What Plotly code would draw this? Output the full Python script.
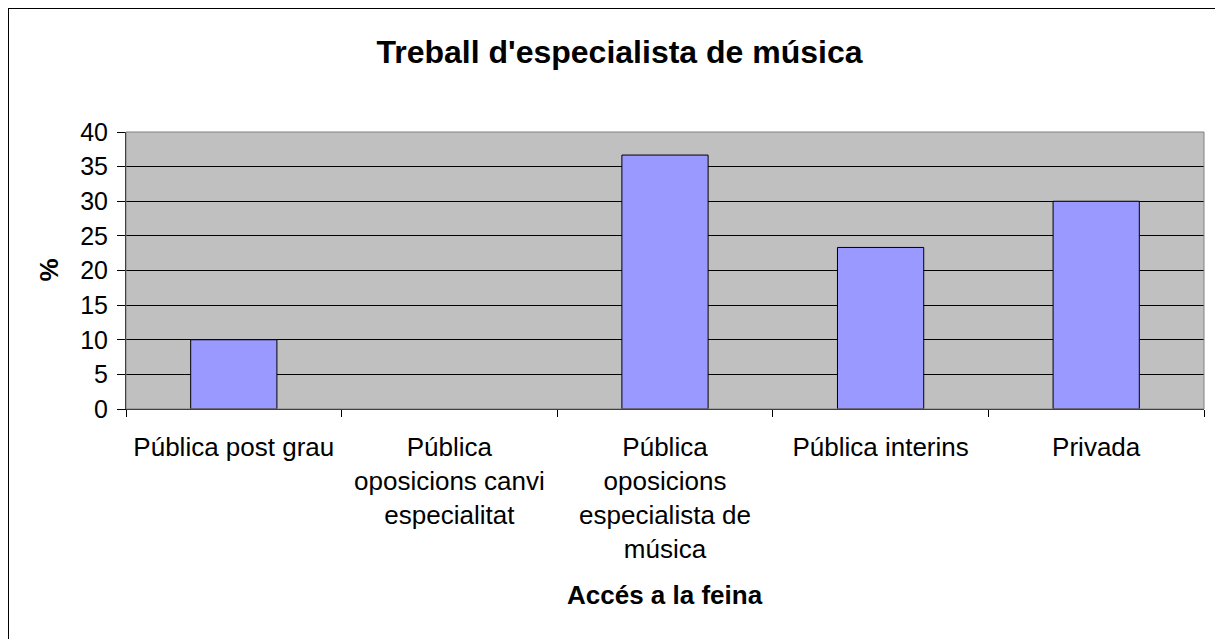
import plotly.graph_objects as go

# dades
categories = [
    "Pública post grau",
    "Pública<br>oposicions canvi<br>especialitat",
    "Pública<br>oposicions<br>especialista de<br>música",
    "Pública interins",
    "Privada",
]
values = [10, 0, 36.67, 23.33, 30]
y_ticks = [0, 5, 10, 15, 20, 25, 30, 35, 40]

font_family = "Liberation Sans, Arial, sans-serif"

# la pàgina ja desplaça la figura 8 px; l'àrea del gràfic va de (118,124) a (1196,401)
L, T, R, B = 118, 124, 1196, 401
W, H = 1223, 639
pw, ph = R - L, B - T

fig = go.Figure()

fig.add_trace(go.Bar(
    x=categories,
    y=values,
    marker=dict(color="#9999FF", line=dict(color="black", width=[1, 0, 1, 1, 1])),
    width=0.4,
))

fig.update_layout(
    width=W,
    height=H,
    margin=dict(l=L, r=W - R, t=T, b=H - B),
    paper_bgcolor="white",
    plot_bgcolor="#C0C0C0",
    showlegend=False,
    font=dict(family=font_family, color="black"),
    title=dict(
        text="<b>Treball d'especialista de música</b>",
        x=0.5, xref="container", xanchor="center",
        y=1 - 44 / H, yref="container", yanchor="middle",
        font=dict(size=32, color="black"),
    ),
)

fig.update_xaxes(
    type="category",
    showgrid=False,
    showline=True, linecolor="black", linewidth=1,
    ticks="outside", ticklen=7, tickcolor="black",
    tickson="boundaries",
    tickfont=dict(size=26),
    ticklabelstandoff=15,
    range=[-0.5, 4.5],
)
fig.update_yaxes(
    range=[0, 40],
    tickvals=y_ticks,
    showgrid=True, gridcolor="black", gridwidth=1,
    showline=True, linecolor="black", linewidth=1,
    ticks="outside", ticklen=8, tickcolor="black",
    tickfont=dict(size=25),
    ticklabelstandoff=4,
    zeroline=False,
)

# marc de l'àrea del gràfic
fig.add_shape(type="rect", xref="paper", yref="paper", x0=0, y0=0, x1=1, y1=1,
              line=dict(color="#808080", width=1), layer="above")
# marc exterior
fig.add_shape(type="rect", xref="paper", yref="paper",
              x0=(0 - L) / pw, y0=-2.0, x1=1.5, y1=1 + (T - 0) / ph,
              line=dict(color="black", width=2))

# títols d'eixos
fig.add_annotation(text="<b>Accés a la feina</b>", xref="paper", yref="paper",
                   x=0.5, y=-(587 - B) / ph, showarrow=False,
                   font=dict(size=26), xanchor="center", yanchor="middle")
fig.add_annotation(text="<b>%</b>", xref="paper", yref="paper",
                   x=(40 - L) / pw, y=0.5, textangle=-90, showarrow=False,
                   font=dict(size=26), xanchor="center", yanchor="middle")

fig.write_html("out.html")
